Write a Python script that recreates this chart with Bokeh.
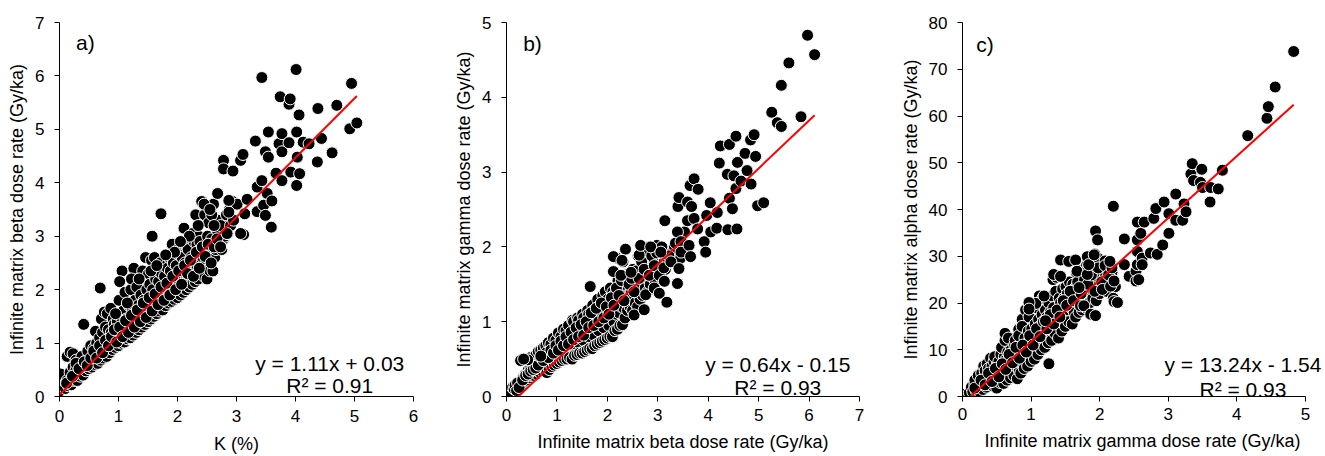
from bokeh.plotting import figure
from bokeh.layouts import row
from bokeh.models import Range1d, FixedTicker, Label
from bokeh.embed import file_html
from bokeh.resources import INLINE

# ---------------- Panel a: K (%) vs infinite matrix beta dose rate ----------------
k_pct = [
    0.00, 0.02,
    0.10, 0.13,
    0.15, 0.18, 0.13,
    0.20, 0.23, 0.18,
    0.25, 0.28, 0.23,
    0.30, 0.33, 0.28,
    0.35, 0.38,
    0.40, 0.43, 0.38, 0.41,
    0.45, 0.48,
    0.50, 0.53, 0.48,
    0.55, 0.58, 0.53,
    0.60, 0.63, 0.58, 0.61,
    0.65, 0.68, 0.63,
    0.70, 0.73, 0.68, 0.71, 0.69,
    0.75, 0.78, 0.73, 0.76,
    0.80, 0.83, 0.78, 0.81,
    0.85, 0.88, 0.83,
    0.90, 0.93, 0.88, 0.91, 0.87,
    0.95, 0.98, 0.93,
    1.00, 1.03, 0.98, 1.01,
    1.05, 1.08, 1.03, 1.06, 1.02,
    1.10, 1.13, 1.08, 1.11,
    1.15, 1.18, 1.13,
    1.20, 1.23, 1.18, 1.21,
    1.25, 1.28, 1.23, 1.26, 1.22,
    1.30, 1.33, 1.28, 1.31,
    1.35, 1.38, 1.33,
    1.40, 1.43, 1.38, 1.41,
    1.45, 1.48, 1.43, 1.46,
    1.50, 1.53, 1.48, 1.51,
    1.55, 1.58, 1.53, 1.56,
    1.60, 1.63, 1.58, 1.61, 1.57,
    1.65, 1.68, 1.63,
    1.70, 1.73, 1.68, 1.71, 1.72,
    1.75, 1.78, 1.73,
    1.80, 1.83, 1.78, 1.81,
    1.85, 1.88, 1.83, 1.86,
    1.90, 1.93, 1.88, 1.91,
    1.95, 1.98, 1.93,
    2.00, 2.03, 1.98, 2.01,
    2.05, 2.08, 2.03,
    2.10, 2.13, 2.08, 2.11,
    2.15, 2.18, 2.13, 2.16,
    2.20, 2.23, 2.18,
    2.25, 2.28, 2.23, 2.26,
    2.30, 2.33, 2.28, 2.31,
    2.35, 2.38, 2.33, 2.36,
    2.40, 2.43, 2.38, 2.41,
    2.45, 2.48, 2.43, 2.46,
    2.50, 2.53, 2.48, 2.51,
    2.55, 2.58, 2.53,
    2.60, 2.63, 2.58, 2.61,
    2.65, 2.68,
    2.70, 2.73, 2.68,
    2.75, 2.78, 2.73,
    2.80, 2.83, 2.78,
    2.85, 2.88,
    2.90, 2.93,
    0.12, 0.22, 0.28, 0.33, 0.42, 0.47, 0.53, 0.58, 0.63, 0.68,
    0.73, 0.78, 0.83, 0.88, 0.93, 0.97, 1.02, 1.07, 1.12, 1.17,
    1.22, 1.27, 1.32, 1.37, 1.42, 1.47, 1.52, 1.57, 1.62, 1.67,
    1.72, 1.77, 1.82, 1.87, 1.92, 1.97, 2.02, 2.07, 2.12, 2.17,
    2.22, 2.27, 2.32, 2.37, 2.42, 2.47, 2.52, 2.57, 2.62, 2.67,
    2.58, 2.35, 2.20, 2.05, 1.95, 1.55, 1.35, 1.15, 0.95, 1.65,
    1.80, 2.45, 2.62, 2.55,
    2.78, 2.94, 3.07, 3.11, 3.01, 3.12, 3.07, 3.14, 3.18, 3.32,
    3.35, 3.35, 3.43, 3.43, 3.46, 3.49, 3.49, 3.52, 3.54, 3.54,
    3.59, 3.60, 3.67, 3.72, 3.74, 3.77, 3.77, 3.77, 3.89, 3.89,
    3.91, 3.92, 4.01, 4.02, 4.03, 4.02, 4.06, 4.07, 4.13, 4.23,
    4.37, 4.38, 4.44, 4.62, 4.70, 4.92, 4.95, 5.04,
    2.95, 2.84, 2.87, 2.87, 2.73,
]
beta_a = [
    0.10, 0.42,
    0.15, 0.30,
    0.20, 0.45, 0.75,
    0.22, 0.55, 0.83,
    0.30, 0.50, 0.80,
    0.30, 0.45, 0.68,
    0.38, 0.60,
    0.40, 0.55, 0.75, 1.35,
    0.48, 0.70,
    0.52, 0.62, 0.85,
    0.55, 0.75, 0.95,
    0.60, 0.70, 0.90, 1.22,
    0.62, 0.80, 1.00,
    0.68, 0.85, 1.10, 1.45, 2.03,
    0.72, 0.95, 1.20, 1.58,
    0.75, 0.92, 1.30, 1.55,
    0.82, 1.05, 1.25,
    0.88, 1.00, 1.20, 1.45, 1.65,
    0.92, 1.10, 1.35,
    0.95, 1.15, 1.40, 1.80,
    1.00, 1.20, 1.50, 2.35, 2.15,
    1.02, 1.30, 1.60, 1.95,
    1.08, 1.25, 1.45,
    1.10, 1.35, 1.70, 2.00,
    1.15, 1.40, 1.65, 2.40, 2.20,
    1.20, 1.50, 1.80, 2.05,
    1.25, 1.45, 1.70,
    1.30, 1.60, 1.90, 2.35,
    1.35, 1.55, 1.80, 2.60,
    1.40, 1.70, 2.00, 2.30,
    1.45, 1.75, 2.10, 2.55,
    1.50, 1.80, 2.00, 2.60, 3.00,
    1.55, 1.90, 2.20,
    1.60, 1.85, 2.15, 2.50, 3.42,
    1.62, 1.95, 2.30,
    1.70, 2.00, 2.25, 2.45,
    1.75, 2.10, 2.40, 2.60,
    1.78, 2.05, 2.35, 2.85,
    1.82, 2.20, 2.50,
    1.85, 2.15, 2.45, 2.75,
    1.90, 2.25, 2.65,
    1.95, 2.30, 2.60, 3.15,
    2.00, 2.20, 2.50, 2.80,
    2.05, 2.40, 2.75,
    2.10, 2.35, 2.60, 3.05,
    2.15, 2.45, 2.90, 3.40,
    2.20, 2.55, 2.85, 3.00,
    2.30, 2.60, 2.90, 3.65,
    2.25, 2.50, 2.75, 3.40,
    2.20, 2.40, 2.70, 3.00,
    2.35, 2.65, 3.25,
    2.35, 2.60, 2.95, 3.60,
    2.75, 3.10,
    2.80, 3.30, 3.80,
    2.75, 2.95, 3.20,
    3.00, 3.40, 4.42,
    3.05, 3.50,
    3.20, 3.65,
    0.25, 0.38, 0.62, 0.52, 0.65, 0.58, 0.72, 0.85, 0.72, 0.95,
    0.82, 1.05, 0.95, 1.12, 1.25, 1.02, 1.30, 1.12, 1.42, 1.20,
    1.52, 1.30, 1.62, 1.40, 1.75, 1.48, 1.85, 1.60, 1.92, 1.72,
    2.05, 1.80, 2.12, 1.90, 2.25, 2.00, 2.35, 2.10, 2.45, 2.30,
    2.55, 2.25, 2.70, 2.40, 2.80, 2.62, 2.85, 2.50, 2.80, 2.95,
    3.40, 3.20, 3.00, 2.90, 2.70, 2.35, 2.20, 1.75, 1.55, 2.45,
    2.65, 3.60, 3.20, 3.50,
    4.26, 4.22, 4.42, 4.53, 3.60, 3.03, 3.05, 3.42, 3.69, 4.78,
    3.92, 3.46, 4.04, 5.97, 3.58, 3.39, 4.58, 3.80, 4.95, 4.48,
    3.17, 3.66, 4.18, 4.73, 5.61, 4.92, 4.58, 4.04, 5.47, 4.75,
    5.57, 4.20, 6.12, 4.95, 4.48, 3.95, 5.27, 4.17, 4.76, 4.73,
    4.39, 5.39, 4.83, 4.56, 5.45, 5.01, 5.86, 5.12,
    3.30, 3.05, 3.45, 3.67, 2.80,
]
fit_a = [1.11, 0.03]  # slope, intercept
r2_a = 0.91

# ---------------- Panel b: beta vs gamma dose rate ----------------
beta_b = [
    0.10, 0.12,
    0.15, 0.17,
    0.20, 0.22,
    0.30, 0.33, 0.28,
    0.35, 0.38,
    0.40, 0.43, 0.38,
    0.45, 0.48,
    0.50, 0.53, 0.48,
    0.55, 0.58,
    0.60, 0.63, 0.58,
    0.65, 0.68, 0.63,
    0.70, 0.73, 0.68,
    0.75, 0.78, 0.73,
    0.80, 0.83, 0.78,
    0.85, 0.88, 0.83,
    0.90, 0.93, 0.88,
    0.95, 0.98, 0.93,
    1.00, 1.03, 0.98,
    1.05, 1.08, 1.03,
    1.10, 1.13, 1.08,
    1.15, 1.18, 1.13,
    1.20, 1.23, 1.18,
    1.25, 1.28, 1.23,
    1.30, 1.33, 1.28, 1.31,
    1.35, 1.38, 1.33,
    1.40, 1.43, 1.38, 1.41,
    1.45, 1.48, 1.43,
    1.50, 1.53, 1.48, 1.51,
    1.55, 1.58, 1.53,
    1.60, 1.63, 1.58, 1.61,
    1.65, 1.68, 1.63, 1.66,
    1.70, 1.73, 1.68, 1.71,
    1.75, 1.78, 1.73,
    1.80, 1.83, 1.78, 1.81,
    1.85, 1.88, 1.83,
    1.90, 1.93, 1.88, 1.91,
    1.95, 1.98, 1.93, 1.96,
    2.00, 2.03, 1.98, 2.01,
    2.05, 2.08, 2.03, 2.06,
    2.10, 2.13, 2.08, 2.11,
    2.15, 2.18, 2.13,
    2.20, 2.23, 2.18, 2.21, 2.19,
    2.25, 2.28, 2.23, 2.26,
    2.30, 2.33, 2.28, 2.31,
    2.35, 2.38, 2.33, 2.36,
    2.40, 2.43, 2.38,
    2.45, 2.48, 2.43,
    2.50, 2.53, 2.48, 2.51,
    2.55, 2.58, 2.53,
    2.60, 2.63, 2.58, 2.61,
    2.65, 2.68, 2.63,
    2.70, 2.73, 2.68,
    2.75, 2.78, 2.73,
    2.80, 2.83, 2.78, 2.81,
    2.85, 2.88, 2.83,
    2.90, 2.93, 2.88,
    2.95, 2.98, 2.93,
    3.00, 3.03, 2.98,
    3.05, 3.08,
    3.10, 3.13, 3.08,
    3.15, 3.18,
    3.20, 3.23,
    3.30, 3.33,
    3.40, 3.43,
    3.45, 3.48,
    3.50, 3.53,
    0.25, 0.32, 0.38, 0.43, 0.48, 0.53, 0.58, 0.63, 0.68, 0.73,
    0.78, 0.83, 0.88, 0.93, 0.98, 1.03, 1.08, 1.13, 1.18, 1.23,
    1.28, 1.33, 1.38, 1.43, 1.48, 1.53, 1.58, 1.63, 1.68, 1.73,
    1.78, 1.83, 1.88, 1.93, 1.98, 2.03, 2.08, 2.13, 2.18, 2.23,
    2.28, 2.33, 2.38, 2.43, 2.48, 2.53, 2.58, 2.63, 2.68, 2.73,
    2.78, 2.83, 2.88, 2.93, 2.98, 3.03, 3.08, 3.12, 3.22, 3.35,
    0.42, 0.34, 0.68, 2.12, 2.12, 2.29,
    2.27, 2.47, 2.53, 2.63, 2.66, 2.73, 2.76, 2.86, 2.93, 3.03,
    3.06, 3.13, 3.14, 3.18, 3.26, 3.39, 3.39, 3.40, 3.42, 3.42,
    3.46, 3.46, 3.59, 3.59, 3.62, 3.64, 3.65, 3.67, 3.72, 3.72,
    3.79, 3.80, 3.92, 3.95, 3.97, 4.04, 4.05, 4.17, 4.18, 4.22,
    4.24, 4.38, 4.39, 4.42, 4.42, 4.48, 4.51, 4.55, 4.55, 4.57,
    4.58, 4.65, 4.73, 4.77, 4.84, 4.85, 4.91, 4.94, 4.98, 5.10,
    5.26, 5.37, 5.45, 5.45, 5.60, 5.84, 5.97, 6.11,
]
gamma_b = [
    0.05, 0.12,
    0.10, 0.15,
    0.08, 0.18,
    0.15, 0.25, 0.48,
    0.20, 0.30,
    0.22, 0.35, 0.50,
    0.25, 0.38,
    0.28, 0.40, 0.52,
    0.28, 0.45,
    0.30, 0.42, 0.55,
    0.33, 0.50, 0.60,
    0.35, 0.45, 0.62,
    0.38, 0.55, 0.65,
    0.32, 0.50, 0.68,
    0.36, 0.60, 0.72,
    0.40, 0.55, 0.70,
    0.42, 0.65, 0.78,
    0.44, 0.60, 0.75,
    0.46, 0.70, 0.85,
    0.48, 0.65, 0.80,
    0.50, 0.75, 0.90,
    0.50, 0.72, 0.88,
    0.52, 0.80, 0.95,
    0.50, 0.68, 0.85, 1.02,
    0.55, 0.78, 1.00,
    0.56, 0.72, 0.90, 1.05,
    0.58, 0.82, 1.02,
    0.58, 0.75, 0.92, 1.10,
    0.60, 0.85, 1.05,
    0.62, 0.80, 0.98, 1.15,
    0.64, 0.88, 1.10, 1.47,
    0.64, 0.82, 1.00, 1.22,
    0.68, 0.92, 1.15,
    0.70, 0.88, 1.08, 1.30,
    0.72, 0.98, 1.20,
    0.74, 0.92, 1.12, 1.35,
    0.76, 1.00, 1.22, 1.40,
    0.78, 0.95, 1.15, 1.30,
    0.80, 1.05, 1.25, 1.45,
    0.80, 1.00, 1.20, 1.40,
    0.88, 1.10, 1.35,
    0.90, 1.12, 1.30, 1.55, 1.85,
    0.95, 1.20, 1.45, 1.62,
    0.96, 1.18, 1.40, 1.80,
    1.05, 1.30, 1.50, 1.97,
    1.15, 1.35, 1.55,
    1.20, 1.40, 1.65,
    1.15, 1.30, 1.50, 1.70,
    1.25, 1.45, 1.60,
    1.20, 1.40, 1.55, 1.88,
    1.30, 1.50, 1.70,
    1.35, 1.60, 1.75,
    1.45, 1.65, 1.85,
    1.40, 1.55, 1.70, 1.90,
    1.50, 1.75, 2.00,
    1.60, 1.80, 1.95,
    1.55, 1.70, 2.00,
    1.65, 1.85, 2.02,
    1.75, 1.90,
    1.55, 1.80, 1.95,
    1.70, 1.85,
    1.78, 1.95,
    1.85, 2.00,
    1.95, 2.10,
    1.85, 2.15,
    2.05, 2.20,
    0.12, 0.22, 0.28, 0.30, 0.34, 0.36, 0.38, 0.42, 0.52, 0.48,
    0.58, 0.52, 0.62, 0.58, 0.68, 0.62, 0.74, 0.68, 0.80, 0.70,
    0.86, 0.76, 0.92, 0.80, 0.96, 0.82, 1.00, 0.92, 1.12, 0.95,
    1.18, 1.00, 1.25, 1.05, 1.20, 1.10, 1.32, 1.22, 1.45, 1.35,
    1.55, 1.28, 1.60, 1.50, 1.58, 1.40, 1.68, 1.58, 1.80, 1.70,
    1.95, 1.62, 1.88, 1.75, 1.92, 1.62, 2.00, 1.72, 1.88, 2.05,
    0.49, 0.50, 0.54, 1.87, 1.67, 1.82,
    1.62, 1.66, 1.09, 1.89, 2.02, 1.16, 1.36, 2.00, 1.45, 1.38,
    1.93, 1.54, 2.35, 1.26, 1.80, 1.51, 2.20, 2.54, 2.66, 1.71,
    2.07, 1.93, 2.60, 2.35, 2.02, 2.82, 1.87, 2.54, 2.91, 2.38,
    2.24, 2.77, 2.07, 1.93, 2.42, 2.59, 2.20, 2.25, 2.46, 3.12,
    3.35, 2.97, 2.23, 3.37, 2.65, 2.51, 2.95, 3.48, 2.78, 2.24,
    3.13, 2.88, 3.25, 3.02, 3.43, 2.84, 3.50, 3.21, 2.55, 2.59,
    3.80, 3.66, 3.61, 4.16, 4.46, 3.74, 4.83, 4.57,
]
fit_b = [0.64, -0.15]
r2_b = 0.93

# ---------------- Panel c: gamma vs alpha dose rate ----------------
gamma_c = [
    0.05,
    0.10, 0.13,
    0.15, 0.18,
    0.20, 0.23, 0.18,
    0.25, 0.28, 0.23,
    0.30, 0.33, 0.28, 0.31,
    0.35, 0.38, 0.33, 0.36,
    0.40, 0.43, 0.38, 0.41,
    0.45, 0.48, 0.43, 0.46,
    0.50, 0.53, 0.48, 0.51, 0.47,
    0.55, 0.58, 0.53, 0.56,
    0.60, 0.63, 0.58, 0.61, 0.57, 0.62,
    0.65, 0.68, 0.63, 0.66, 0.62,
    0.70, 0.73, 0.68, 0.71, 0.67,
    0.75, 0.78, 0.73, 0.76,
    0.80, 0.83, 0.78, 0.81, 0.77, 0.82,
    0.85, 0.88, 0.83, 0.86, 0.82, 0.87,
    0.90, 0.93, 0.88, 0.91, 0.87,
    0.95, 0.98, 0.93, 0.96, 0.92, 0.97,
    1.00, 1.03, 0.98, 1.01, 0.97,
    1.05, 1.08, 1.03, 1.06, 1.02,
    1.10, 1.13, 1.08, 1.11, 1.07, 1.12,
    1.15, 1.18, 1.13, 1.16,
    1.20, 1.23, 1.18, 1.21, 1.17,
    1.25, 1.28, 1.23, 1.26,
    1.30, 1.33, 1.28, 1.31,
    1.35, 1.38, 1.33, 1.36, 1.32,
    1.40, 1.43, 1.38, 1.41, 1.37,
    1.45, 1.48, 1.43, 1.46,
    1.50, 1.53, 1.48, 1.51,
    1.55, 1.58, 1.53, 1.56,
    1.60, 1.63, 1.58, 1.61, 1.57,
    1.65, 1.68, 1.63, 1.66,
    1.70, 1.73, 1.68, 1.71,
    1.75, 1.78, 1.73,
    1.80, 1.83, 1.78, 1.81,
    1.85, 1.88, 1.83, 1.86,
    1.90, 1.93, 1.88,
    1.95, 1.98, 1.93,
    2.00, 2.03, 1.98,
    2.05, 2.08,
    2.10, 2.13, 2.08,
    2.15, 2.18,
    2.20, 2.23, 2.18,
    0.18, 0.27, 0.33, 0.38, 0.43, 0.48, 0.53, 0.58, 0.63, 0.68,
    0.73, 0.78, 0.83, 0.88, 0.93, 0.98, 1.03, 1.08, 1.13, 1.18,
    1.23, 1.28, 1.33, 1.38, 1.42, 1.47, 1.52, 1.57, 1.62, 1.68,
    1.73, 1.78, 1.83, 1.88, 1.93, 1.98, 2.03, 2.08, 2.13, 2.18,
    1.07, 0.97, 1.19, 0.97, 1.21, 1.26, 1.33, 1.43, 1.43, 1.55,
    1.65, 1.67, 1.70, 1.72, 1.77, 1.82, 1.82, 1.84, 1.87, 1.92,
    1.94, 1.94, 1.97, 2.04, 2.15, 2.16, 2.20, 2.21, 2.21, 2.26,
    2.36, 2.36, 2.43, 2.53, 2.53, 2.55, 2.55, 2.55, 2.55, 2.57,
    2.60, 2.62, 2.62, 2.65, 2.74, 2.79, 2.82, 2.84, 2.92, 2.94,
    3.01, 3.01, 3.11, 3.11, 3.21, 3.23, 3.26, 3.33, 3.35, 3.37,
    3.47, 3.49, 3.50, 3.61, 3.62, 3.73, 3.79, 4.16, 4.44, 4.46,
    4.56, 4.83,
]
alpha_c = [
    0.5,
    0.8, 2.0,
    1.0, 2.5,
    1.2, 2.2, 3.5,
    1.0, 2.8, 4.5,
    1.5, 3.0, 5.0, 6.5,
    2.0, 3.5, 5.5, 7.0,
    2.5, 4.0, 6.0, 8.2,
    2.2, 4.5, 6.5, 7.5,
    1.8, 3.5, 5.0, 7.0, 8.5,
    3.0, 5.5, 7.5, 9.0,
    2.8, 4.5, 6.5, 8.5, 10.5, 12.0,
    3.5, 5.2, 7.8, 9.5, 13.5,
    4.0, 6.0, 8.0, 10.0, 12.5,
    4.5, 6.5, 9.0, 11.0,
    3.8, 5.5, 7.5, 9.5, 12.0, 14.4,
    5.0, 7.0, 9.0, 11.5, 13.0, 16.5,
    6.0, 8.0, 10.5, 12.5, 15.0,
    6.5, 9.0, 11.0, 14.0, 18.5, 20.0,
    7.5, 9.5, 12.0, 14.5, 17.0,
    8.0, 10.5, 13.0, 15.5, 19.5,
    9.0, 11.5, 14.0, 16.5, 19.0, 21.5,
    10.0, 12.5, 15.0, 17.5,
    10.5, 13.0, 16.0, 18.5, 21.0,
    11.5, 14.0, 17.0, 20.0,
    12.0, 15.0, 18.0, 21.5,
    13.5, 16.0, 19.0, 22.5, 25.0,
    12.5, 15.5, 18.0, 21.0, 25.5,
    14.0, 17.0, 20.0, 23.0,
    15.0, 18.5, 21.0, 23.5,
    16.0, 19.0, 22.0, 24.5,
    15.5, 18.0, 21.5, 24.0, 29.0,
    17.0, 20.0, 23.0, 26.5,
    18.0, 21.0, 24.0, 27.0,
    18.5, 22.0, 25.0,
    19.0, 22.5, 26.0, 28.0,
    20.0, 23.0, 27.5, 30.0,
    21.0, 24.5, 28.5,
    20.5, 25.5, 30.5,
    22.0, 26.0, 29.5,
    23.0, 25.5,
    22.5, 27.0, 29.0,
    24.5, 26.5,
    21.0, 23.5, 25.0,
    1.8, 3.5, 2.5, 5.0, 3.2, 6.0, 4.2, 7.0, 5.8, 9.0,
    7.2, 10.5, 8.2, 11.0, 9.5, 13.0, 11.0, 14.5, 12.8, 16.0,
    14.5, 17.5, 15.5, 18.5, 17.0, 20.5, 19.5, 22.5, 20.5, 24.5,
    22.0, 25.0, 24.0, 26.0, 22.5, 27.5, 24.5, 28.0, 26.0, 27.5,
    19.9, 20.1, 21.5, 18.7, 16.2, 7.0, 26.1, 25.7, 29.2, 28.9,
    29.2, 26.8, 23.3, 19.4, 19.4, 29.9, 26.1, 28.2, 17.6, 30.3,
    35.4, 17.3, 33.5, 22.9, 28.9, 23.6, 40.7, 24.7, 20.3, 20.1,
    33.7, 28.2, 25.7, 26.8, 24.7, 37.3, 33.5, 31.0, 28.2, 25.0,
    34.9, 29.6, 28.2, 37.3, 30.7, 38.1, 40.2, 30.4, 32.4, 41.6,
    39.1, 34.9, 43.3, 37.7, 37.7, 41.2, 39.5, 47.6, 49.8, 46.2,
    45.8, 48.6, 44.7, 41.6, 44.7, 44.4, 48.4, 55.8, 59.5, 62.0,
    66.2, 73.8,
]
fit_c = [13.24, -1.54]
r2_c = 0.93

FONT = "Liberation Sans"


def make_panel(xs, ys, fit, r2, xmax, xview, ymax, xstep, ystep, xlabel, ylabel, tag,
               width, height, left, right, top, bottom, xstand, eq_pos, tag_pos):
    p = figure(width=width, height=height, x_range=Range1d(0, xview), y_range=Range1d(0, ymax),
               output_backend="svg", toolbar_location=None,
               min_border_left=left, min_border_right=right,
               min_border_top=top, min_border_bottom=bottom)
    p.outline_line_color = None
    p.grid.visible = False
    p.xaxis.ticker = FixedTicker(ticks=list(range(0, xmax + 1, xstep)))
    p.yaxis.ticker = FixedTicker(ticks=list(range(0, ymax + 1, ystep)))
    p.xaxis.bounds = (0, xmax)
    for ax in (p.xaxis[0], p.yaxis[0]):
        ax.axis_line_color = "black"
        ax.axis_line_width = 1
        ax.major_tick_line_color = "black"
        ax.major_tick_in = 0
        ax.major_tick_out = 5
        ax.minor_tick_line_color = None
        ax.major_label_text_font = FONT
        ax.major_label_text_font_size = "17px"
        ax.major_label_text_color = "black"
        ax.axis_label_text_font = FONT
        ax.axis_label_text_font_size = "18px"
        ax.axis_label_text_font_style = "normal"
        ax.axis_label_text_color = "black"
    p.yaxis[0].axis_label_standoff = 5
    p.yaxis[0].major_label_standoff = 10
    p.xaxis[0].major_label_standoff = xstand[0]
    p.xaxis[0].axis_label_standoff = xstand[1]
    p.xaxis[0].axis_label = xlabel
    p.yaxis[0].axis_label = ylabel

    p.scatter(xs, ys, size=12, marker="circle", fill_color="black",
              line_color="white", line_width=1)
    x0, x1 = min(xs), max(xs)
    p.line([x0, x1], [fit[0] * x0 + fit[1], fit[0] * x1 + fit[1]],
           line_color="#ff0000", line_width=2)

    sign = "+" if fit[1] >= 0 else "-"
    eq = f"y = {fit[0]:.2f}x {sign} {abs(fit[1]):.2f}"
    p.add_layout(Label(x=eq_pos[0], y=eq_pos[1], text=eq, text_align="center",
                       text_baseline="alphabetic", text_font=FONT,
                       text_font_size="21px", text_color="black"))
    p.add_layout(Label(x=eq_pos[0], y=eq_pos[2], text=f"R\u00b2 = {r2:.2f}",
                       text_align="center", text_baseline="alphabetic",
                       text_font=FONT, text_font_size="21px", text_color="black"))
    p.add_layout(Label(x=tag_pos[0], y=tag_pos[1], text=tag, text_align="left",
                       text_baseline="alphabetic", text_font=FONT,
                       text_font_size="21px", text_color="black"))
    return p


pa = make_panel(k_pct, beta_a, fit_a, r2_a, 6, 6, 7, 1, 1, "K (%)",
                "Infinite matrix beta dose rate (Gy/ka)", "a)",
                450, 456, 59, 37, 22, 60, (8, 9), (4.58, 0.62, 0.21), (0.28, 6.62))
pb = make_panel(beta_b, gamma_b, fit_b, r2_b, 7, 7, 5, 1, 1,
                "Infinite matrix beta dose rate (Gy/ka)",
                "Infinite matrix gamma dose rate (Gy/ka)", "b)",
                440, 456, 56, 31, 22, 57, (7, 8), (5.38, 0.434, 0.123), (0.33, 4.715))
pc = make_panel(gamma_c, alpha_c, fit_c, r2_c, 5, 5.25, 80, 1, 10,
                "Infinite matrix gamma dose rate (Gy/ka)",
                "Infinite matrix alpha dose rate (Gy/ka)", "c)",
                435, 456, 72, 3, 22, 56, (6, 8), (4.09, 6.77, 1.54), (0.2, 75.4))

layout = row(pa, pb, pc)
open("out.html", "w").write(file_html(layout, INLINE))
